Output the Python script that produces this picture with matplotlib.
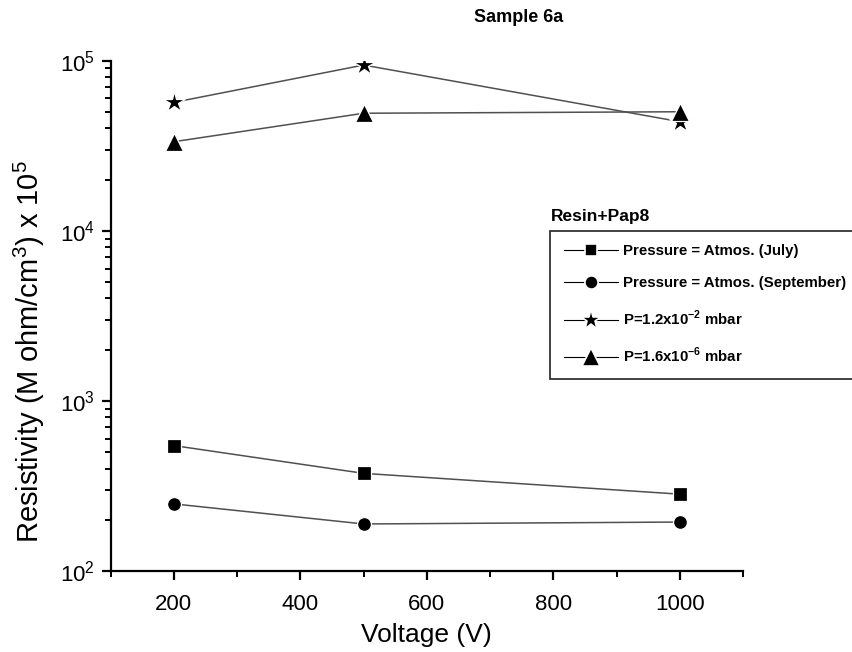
import numpy as np
import matplotlib
matplotlib.use('Agg')
import matplotlib.pyplot as plt
from matplotlib.ticker import LogLocator, FixedLocator, NullFormatter

matplotlib.rcParams['font.family'] = ['Liberation Sans', 'DejaVu Sans']
matplotlib.rcParams['mathtext.fontset'] = 'custom'
matplotlib.rcParams['mathtext.rm'] = 'Liberation Sans'
matplotlib.rcParams['mathtext.bf'] = 'Liberation Sans:bold'

# values
voltage = [200, 500, 1000]
atmos_july = [546, 375, 283]
atmos_sept = [248, 189, 194]
p_1e2 = [56900, 94300, 43800]
p_1e6 = [33400, 49100, 50100]

labels = ['Pressure = Atmos. (July)',
          'Pressure = Atmos. (September)',
          r'P=1.2x10$^{\mathbf{-2}}$ mbar',
          r'P=1.6x10$^{\mathbf{-6}}$ mbar']
markers = ['s', 'o', '*', '^']
sizes = [9.5, 10, 16, 13]
series = [atmos_july, atmos_sept, p_1e2, p_1e6]

fig = plt.figure(figsize=(8.52, 6.52), dpi=100)
ax1 = fig.add_axes([110.7/852, 1-571/652, (743-110.7)/852, (571-60.7)/652])

for vals, m, ms in zip(series, markers, sizes):
    ax1.plot(voltage, vals, color='#505050', lw=1.1, zorder=1)
    ax1.plot(voltage, vals, ls='none', marker=m, ms=ms, color='black',
             mec='white', mew=0.9, zorder=2)

ax1.set_yscale('log')
ax1.set_xlim(100, 1100)
ax1.set_ylim(1e2, 1e5)
ax1.xaxis.set_major_locator(FixedLocator([200, 400, 600, 800, 1000]))
ax1.xaxis.set_minor_locator(FixedLocator([100, 300, 500, 700, 900, 1100]))
ax1.yaxis.set_major_locator(LogLocator(base=10))
ax1.yaxis.set_minor_locator(LogLocator(base=10, subs=np.arange(2, 10)))
ax1.yaxis.set_minor_formatter(NullFormatter())

for s in ['top', 'right']:
    ax1.spines[s].set_visible(False)
for s in ['left', 'bottom']:
    ax1.spines[s].set_linewidth(1.6)
ax1.tick_params(which='major', direction='out', length=6.5, width=1.6, labelsize=16)
ax1.tick_params(which='minor', direction='out', length=4.3, width=1.4)
ax1.tick_params(axis='x', pad=10)
ax1.tick_params(axis='y', pad=5)

ax1.set_xlabel('Voltage (V)', fontsize=19, labelpad=6)
ax1.set_ylabel(r'Resistivity (M ohm/cm$^3$) x 10$^5$', fontsize=21)
ax1.yaxis.set_label_coords(-0.1, 0.43)

fig.text(519/852, 1-18/652, 'Sample 6a', fontsize=13, fontweight='bold',
         ha='center', va='center')

# legend drawn with dummy handles (line - marker - line)
handles = []
for m, ms in zip(markers, sizes):
    h, = ax1.plot([], [], color='black', lw=0.8, marker=m, ms=ms*0.95,
                  mec='white', mew=1.2, mfc='black')
    handles.append(h)
leg = ax1.legend(handles, labels, loc='upper left',
                 bbox_to_anchor=(550/852, 1-231/652), bbox_transform=fig.transFigure,
                 prop={'weight': 'bold', 'size': 10.8}, frameon=True, fancybox=False,
                 handlelength=3.6, handletextpad=0.35, labelspacing=1.2,
                 borderpad=0.9, borderaxespad=0)
leg.get_frame().set_edgecolor('black')
leg.get_frame().set_linewidth(1.3)
fig.text(551/852, 1-216/652, 'Resin+Pap8', fontsize=12.5, fontweight='bold',
         ha='left', va='center')

plt.savefig('out.png', dpi=100)
